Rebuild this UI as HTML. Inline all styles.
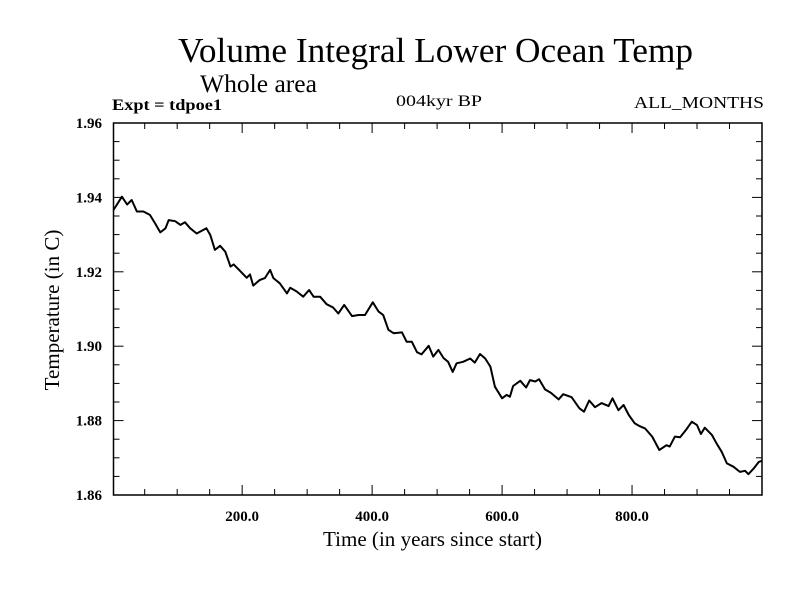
<!DOCTYPE html>
<html><head><meta charset="utf-8"><style>
body{margin:0;background:#fff}
svg text{font-family:"Liberation Serif",serif;fill:#000}
</style></head><body>
<svg id="chart" width="800" height="600" xmlns="http://www.w3.org/2000/svg">
<rect width="800" height="600" fill="#fff"/>
<text x="178" y="62" font-size="35" textLength="515" lengthAdjust="spacingAndGlyphs">Volume Integral Lower Ocean Temp</text>
<text x="200" y="92" font-size="25" textLength="117" lengthAdjust="spacingAndGlyphs">Whole area</text>
<text x="112" y="110" font-size="16" font-weight="bold" textLength="110" lengthAdjust="spacingAndGlyphs">Expt = tdpoe1</text>
<text x="396" y="106" font-size="16" textLength="86" lengthAdjust="spacingAndGlyphs">004kyr BP</text>
<text x="634" y="108" font-size="17" textLength="130" lengthAdjust="spacingAndGlyphs">ALL_MONTHS</text>
<text x="323" y="546" font-size="21" textLength="219" lengthAdjust="spacingAndGlyphs">Time (in years since start)</text>
<text transform="translate(59,310) rotate(-90)" font-size="21" text-anchor="middle">Temperature (in C)</text>
<g id="axes"></g>
<g id="plot"></g>
</svg>
<script>
const years=[2,15,23,30,38,48,58,66,74,82,87,97,105,112,120,130,145,151,158,166,174,182,187,197,207,212,217,227,235,243,248,258,269,274,284,294,303,310,320,330,340,348,357,369,379,389,401,410,417,425,433,446,453,461,469,476,487,494,502,510,517,524,530,540,551,558,566,574,582,589,600,607,612,617,628,637,643,651,657,666,675,687,694,707,719,726,734,743,753,764,770,779,787,795,804,812,820,831,842,853,858,866,874,883,892,900,906,912,923,930,938,946,956,966,974,979,987,995,1000];
const temps=[1.9366,1.9402,1.9381,1.9393,1.9362,1.9362,1.9353,1.9330,1.9306,1.9317,1.9339,1.9336,1.9326,1.9333,1.9317,1.9303,1.9317,1.9299,1.9259,1.9270,1.9254,1.9214,1.9220,1.9202,1.9184,1.9193,1.9163,1.9178,1.9183,1.9205,1.9183,1.9169,1.9142,1.9157,1.9147,1.9133,1.9151,1.9133,1.9133,1.9113,1.9104,1.9088,1.9111,1.9081,1.9084,1.9084,1.9118,1.9093,1.9084,1.9044,1.9035,1.9037,1.9012,1.9012,1.8984,1.8978,1.9001,1.8972,1.8990,1.8968,1.8958,1.8931,1.8954,1.8958,1.8967,1.8956,1.8979,1.8967,1.8945,1.8891,1.8860,1.8869,1.8864,1.8893,1.8907,1.8889,1.8909,1.8905,1.8911,1.8884,1.8875,1.8857,1.8871,1.8863,1.8833,1.8824,1.8854,1.8836,1.8847,1.8839,1.8860,1.8828,1.8842,1.8815,1.8793,1.8785,1.8779,1.8757,1.8721,1.8734,1.8730,1.8757,1.8755,1.8775,1.8797,1.8788,1.8764,1.8781,1.8761,1.8739,1.8716,1.8685,1.8676,1.8662,1.8665,1.8656,1.8671,1.8689,1.8692];
const xTickLabels=[200,400,600,800];
const yTickLabels=[1.86,1.88,1.90,1.92,1.94,1.96];
const L=113.5,R=762,T=123,B=495,XMIN=2,XMAX=1000,YMIN=1.86,YMAX=1.96;
const sx=v=>L+(v-XMIN)/(XMAX-XMIN)*(R-L);
const sy=v=>B-(v-YMIN)/(YMAX-YMIN)*(B-T);
const NS='http://www.w3.org/2000/svg';
const axes=document.getElementById('axes'),plot=document.getElementById('plot');
function mk(tag,attrs,parent){const e=document.createElementNS(NS,tag);for(const k in attrs)e.setAttribute(k,attrs[k]);parent.appendChild(e);return e;}
const frame=mk('rect',{x:L,y:T,width:R-L,height:B-T,fill:'none',stroke:'#000','stroke-width':1.5},axes);


for(let v=50;v<XMAX;v+=50){const x=sx(v);const len=(v%200===0)?10:6;
 const t1=mk('line',{x1:x,x2:x,y1:B,y2:B-len,stroke:'#000','stroke-width':1},axes);
 
 
 const t2=mk('line',{x1:x,x2:x,y1:T,y2:T+len,stroke:'#000','stroke-width':1},axes);
 
 }
for(let i=1;i<20;i++){const v=YMIN+i*0.005;const y=sy(v);const len=(i%4===0)?10:6;
 const t1=mk('line',{x1:L,x2:L+len,y1:y,y2:y,stroke:'#000','stroke-width':1},axes);
 
 
 const t2=mk('line',{x1:R,x2:R-len,y1:y,y2:y,stroke:'#000','stroke-width':1},axes);
 
 }
xTickLabels.forEach(v=>{const t=mk('text',{x:sx(v),y:521,'font-size':15,'font-weight':'bold','text-anchor':'middle'},axes);t.textContent=v.toFixed(1);
 
 });
yTickLabels.forEach(v=>{const t=mk('text',{x:102,y:sy(v)+5,'font-size':15,'font-weight':'bold','text-anchor':'end'},axes);t.textContent=v.toFixed(2);
 
 });
const d=years.map((yr,i)=>(i?'L':'M')+sx(yr).toFixed(1)+' '+sy(temps[i]).toFixed(1)).join(' ');
const p=mk('path',{d:d,fill:'none',stroke:'#000','stroke-width':2,'stroke-linejoin':'round'},plot);


</script>
</body></html>
